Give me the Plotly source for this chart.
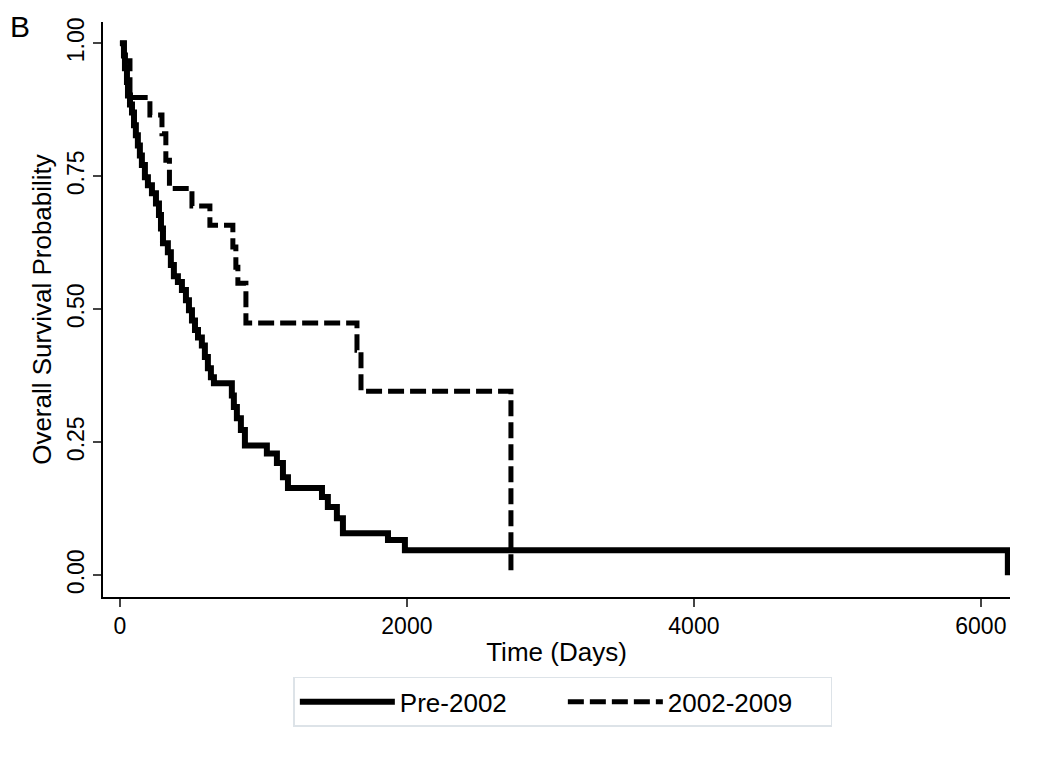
import plotly.graph_objects as go

# Pre-2002 (solid) Kaplan-Meier step points: time (days) and survival after each step
pre_time = [0, 28, 35, 49, 56, 70, 84, 98, 111, 125, 139, 153, 174, 195, 223, 251, 272, 286, 300,
            334, 355, 376, 404, 432, 460, 481, 502, 523, 544, 571, 592, 613, 634, 655,
            780, 794, 815, 843, 871, 1024, 1094, 1136, 1171, 1408, 1449, 1512, 1554, 1868, 1986, 6188]
pre_surv = [1.0, 0.977, 0.953, 0.927, 0.902, 0.885, 0.870, 0.846, 0.827, 0.808, 0.789, 0.771, 0.748,
            0.733, 0.718, 0.699, 0.677, 0.652, 0.624, 0.607, 0.583, 0.562, 0.551, 0.536, 0.517,
            0.498, 0.479, 0.461, 0.447, 0.432, 0.410, 0.389, 0.372, 0.361,
            0.338, 0.316, 0.295, 0.273, 0.244, 0.229, 0.211, 0.184, 0.164, 0.147, 0.128, 0.107,
            0.079, 0.066, 0.047, 0.0]

# 2002-2009 (dashed)
new_time = [0, 28, 70, 209, 293, 320, 345, 502, 627, 787, 808, 822, 878, 1652, 1680, 2725]
new_surv = [1.0, 0.967, 0.898, 0.865, 0.83, 0.78, 0.727, 0.694, 0.658, 0.617, 0.579, 0.549,
            0.474, 0.423, 0.346, 0.0]

x_ticks = [0, 2000, 4000, 6000]
y_ticks = [0, 0.25, 0.5, 0.75, 1.0]
y_tick_labels = ["0.00", "0.25", "0.50", "0.75", "1.00"]

FONT = "Arial, 'Liberation Sans', sans-serif"

fig = go.Figure()
fig.add_trace(go.Scatter(x=pre_time, y=pre_surv, mode="lines", name="Pre-2002",
                         line=dict(color="black", width=6, shape="hv")))
fig.add_trace(go.Scatter(x=new_time, y=new_surv, mode="lines", name="2002-2009",
                         line=dict(color="black", width=5, shape="hv", dash="16px,6px")))

# page body has an 8px margin, so the figure is shifted accordingly
fig.update_layout(
    width=1042, height=754,
    margin=dict(l=95, r=40, t=14, b=165),
    paper_bgcolor="white", plot_bgcolor="white",
    font=dict(family=FONT, size=23, color="black"),
    showlegend=True,
    legend=dict(orientation="h", x=0.507, xanchor="center", y=-0.139, yanchor="top",
                bordercolor="#dde3e8", borderwidth=1.5, font=dict(size=26),
                itemwidth=95, entrywidth=158, entrywidthmode="pixels",
                traceorder="normal", itemclick=False),
    xaxis=dict(range=[-118, 6203], tickvals=x_ticks, ticks="outside", ticklen=8, tickwidth=1.5,
               showline=True, linecolor="black", linewidth=1.5, showgrid=False, zeroline=False,
               automargin=False, tickfont=dict(size=23),
               title=dict(text="Time (Days)", standoff=4, font=dict(size=26))),
    yaxis=dict(range=[-0.041, 1.04], tickvals=y_ticks, ticktext=y_tick_labels, tickangle=-90,
               ticks="outside", ticklen=8, tickwidth=1.5, automargin=False, tickfont=dict(size=23),
               showline=True, linecolor="black", linewidth=1.5, showgrid=False, zeroline=False,
               title=dict(text="Overall Survival Probability", standoff=4, font=dict(size=26))),
    annotations=[dict(text="B", xref="paper", yref="paper", x=-95 / 907, y=1 + 14 / 575,
                      xanchor="left", yanchor="top", showarrow=False, font=dict(size=30))],
)

fig.write_html("out.html")
